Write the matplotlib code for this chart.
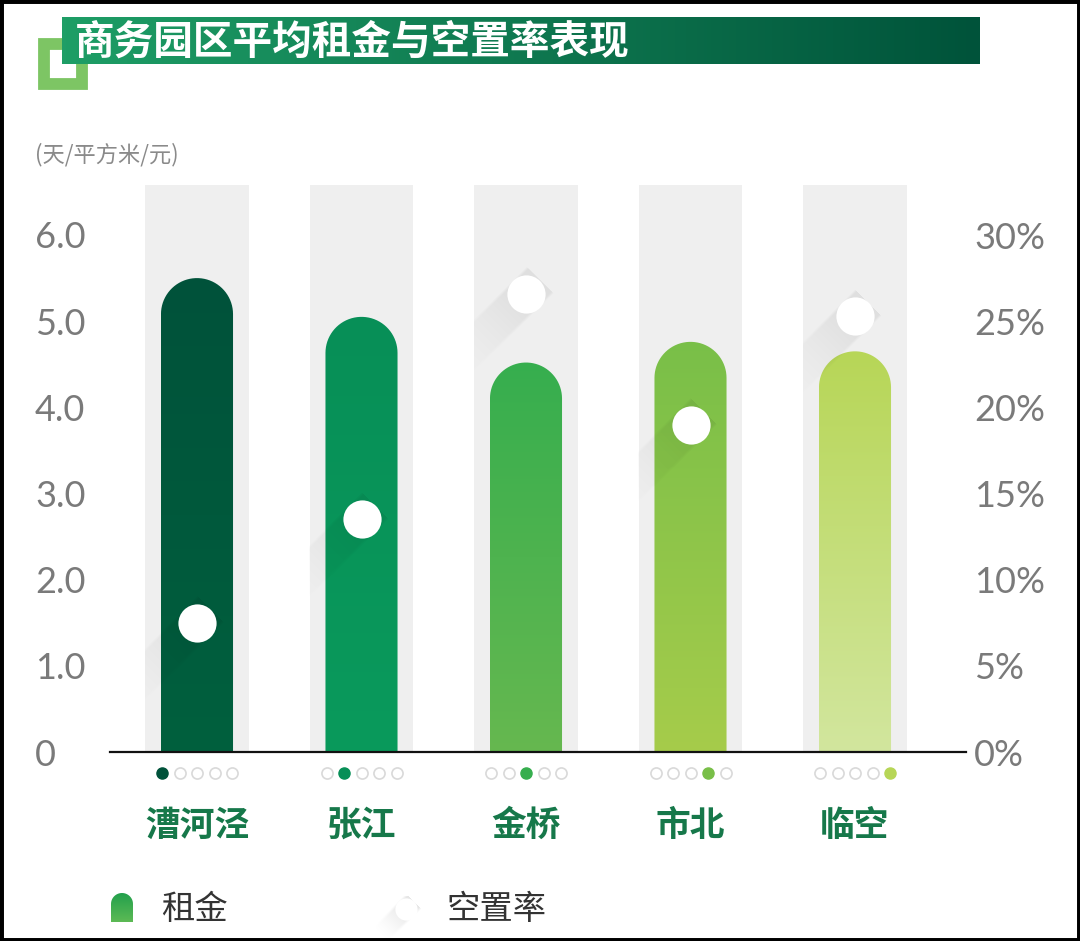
import numpy as np
import matplotlib
matplotlib.use('Agg')
import matplotlib.pyplot as plt
from matplotlib.patches import Polygon, Rectangle
from matplotlib.colors import to_rgb

plt.rcParams['font.family'] = ['Noto Sans CJK SC', 'DejaVu Sans']

# data
parks = ['漕河泾', '张江', '金桥', '市北', '临空']
rent = [5.50, 5.05, 4.52, 4.76, 4.65]          # 元/平方米/天
vacancy = [7.5, 13.5, 26.6, 19.0, 25.3]       # %
rent_ticks = [0, 1, 2, 3, 4, 5, 6]
rent_labels = ['0', '1.0', '2.0', '3.0', '4.0', '5.0', '6.0']
vac_ticks = [0, 5, 10, 15, 20, 25, 30]
vac_labels = ['0%', '5%', '10%', '15%', '20%', '25%', '30%']

bar_top = ['#00523A', '#078F57', '#36AE4E', '#79BF48', '#B7D657']
bar_bot = ['#00603E', '#0A9A5C', '#66B850', '#A6CC4B', '#D2E69E']

W, H = 1080, 941
fig = plt.figure(figsize=(W / 100, H / 100), dpi=100)
fig.patch.set_facecolor('white')

# decoration layer in pixel units (y down)
deco = fig.add_axes([0, 0, 1, 1], zorder=0)
deco.set_xlim(0, W)
deco.set_ylim(H, 0)
deco.axis('off')
deco.set_autoscale_on(False)

# main chart: baseline at y=752px, axes top at 185px, from x=110 to 966
ax = fig.add_axes([110 / W, (H - 752) / H, (966 - 110) / W, (752 - 185) / H], zorder=1)
ax.patch.set_alpha(0)
ymax = 6 * (752 - 185) / (752 - 235)
ax.set_xlim(-87 / 164.5, 769 / 164.5)
ax.set_ylim(0, ymax)
ax.set_autoscale_on(False)
ax2 = ax.twinx()
ax2.set_ylim(0, ymax * 5)
ax2.set_autoscale_on(False)


def grad_img(c1, c2, n=256):
    c1, c2 = np.array(to_rgb(c1)), np.array(to_rgb(c2))
    t = np.linspace(0, 1, n)[:, None]
    return (c1 * (1 - t) + c2 * t)[:, None, :]


def long_shadow(axis, cx, cy, r, box, length=120, amax=0.07, z=3):
    # cx, cy, box in display pixels (y up); shadow runs down-left
    x0, x1, y0, y1 = box
    xs = np.arange(x0, x1) + 0.5
    ys = np.arange(y0, y1) + 0.5
    X, Y = np.meshgrid(xs, ys)
    ux, uy = X - cx, Y - cy
    t = (-ux - uy) / np.sqrt(2)
    s = (ux - uy) / np.sqrt(2)
    fade = np.clip(1 - np.clip(t, 0, None) / length, 0, 1) ** 1.6
    edge = np.clip((r - np.abs(s)) / 3.0, 0, 1)
    a = np.where(t > -r, amax * fade * edge, 0)
    img = np.zeros(X.shape + (4,))
    img[..., 3] = a
    inv = axis.transData.inverted()
    dx0, dy0 = inv.transform((x0, y0))
    dx1, dy1 = inv.transform((x1, y1))
    axis.imshow(img, extent=(dx0, dx1, dy0, dy1), origin='lower', aspect='auto',
                zorder=z, interpolation='bilinear')


col_w = 0.632
bar_w = 0.438
xs = np.arange(len(parks))
inv = ax.transData.inverted()
for i in xs:
    # gray column
    ax.add_patch(Rectangle((i - col_w / 2, 0), col_w, ymax, facecolor='#EFEFEF',
                           edgecolor='none', zorder=1))
    # rounded bar built in pixels, mapped back to data
    (l, b), (rr, t) = ax.transData.transform([(i - bar_w / 2, 0), (i + bar_w / 2, rent[i])])
    rad = (rr - l) / 2
    ang = np.linspace(np.pi, 0, 40)
    arc = np.column_stack([l + rad + rad * np.cos(ang), t - rad + rad * np.sin(ang)])
    verts = np.vstack([[l, b], arc, [rr, b]])
    poly = Polygon(inv.transform(verts), closed=True, facecolor='none', edgecolor='none')
    ax.add_patch(poly)
    im = ax.imshow(grad_img(bar_top[i], bar_bot[i]), extent=(i - bar_w / 2, i + bar_w / 2, 0, rent[i]),
                   origin='upper', aspect='auto', zorder=2)
    im.set_clip_path(poly)
    # long shadow behind vacancy dot, limited to the gray column
    cx, cy = ax2.transData.transform((i, vacancy[i]))
    (gx0, gy0), (gx1, gy1) = ax.transData.transform([(i - col_w / 2, 0), (i + col_w / 2, ymax)])
    long_shadow(ax, cx, cy, 19, (int(gx0), int(gx1), int(gy0), int(gy1)))
    # page dots under each bar
    step = 17.5 / 164.5
    for k in range(len(parks)):
        if k == i:
            ax.plot(i + (k - 2) * step, -0.244, 'o', ms=8, mfc=bar_top[i], mec=bar_top[i],
                    clip_on=False, zorder=5)
        else:
            ax.plot(i + (k - 2) * step, -0.244, 'o', ms=8, mfc='white', mec='#D9D9D9', mew=1.2,
                    clip_on=False, zorder=5)
    ax.text(i, -0.85, parks[i], ha='center', va='center', fontsize=25, color='#16784A',
            fontweight='bold')

ax2.plot(xs, vacancy, 'o', ms=27.5, mfc='white', mec='none', zorder=5)

for a in (ax, ax2):
    for sp in a.spines.values():
        sp.set_visible(False)
ax.spines['bottom'].set_visible(True)
ax.spines['bottom'].set_color('#111111')
ax.spines['bottom'].set_linewidth(1.6)
ax.spines['bottom'].set_zorder(6)
ax.set_xticks([])

ax.set_yticks(rent_ticks)
ax.set_yticklabels(rent_labels, family=['Lato', 'DejaVu Sans'], fontsize=26, color='#7A7A7A',
                   ha='left')
ax.tick_params(axis='y', length=0, pad=54)
ax2.set_yticks(vac_ticks)
ax2.set_yticklabels(vac_labels, family=['Lato', 'DejaVu Sans'], fontsize=26, color='#7A7A7A')
ax2.tick_params(axis='y', length=0, pad=6)

ax.text(-0.53 - 75 / 164.5, (752 - 155) / 86.17, '(天/平方米/元)', ha='left', va='center',
        fontsize=16, color='#8A8A8A')

# title banner with green bracket icon
deco.add_patch(Rectangle((44, 44), 38, 40, facecolor='none', edgecolor='#7DC564', linewidth=8.5, zorder=1))
deco.imshow(grad_img('#1E9E66', '#00533A').transpose(1, 0, 2), extent=(62, 980, 64, 17),
            aspect='auto', zorder=2)
deco.text(75, 42, '商务园区平均租金与空置率表现', color='white', fontsize=28.5, fontweight='bold',
          ha='left', va='center', zorder=3)

# legend
ang = np.linspace(np.pi, 2 * np.pi, 30)
cap = np.column_stack([122 + 11 * np.cos(ang), 904 + 11 * np.sin(ang)])
lpoly = Polygon(np.vstack([[111, 922], cap, [133, 922]]), closed=True, facecolor='none', edgecolor='none')
deco.add_patch(lpoly)
lim = deco.imshow(grad_img('#22A04C', '#5DBA55'), extent=(111, 133, 922, 893), aspect='auto', zorder=2)
lim.set_clip_path(lpoly)
deco.text(161, 909, '租金', fontsize=24, color='#333333', ha='left', va='center')

lcx, lcy = 406, 909
long_shadow(deco, lcx, H - lcy, 11, (375, 425, 0, 45), length=40, amax=0.10, z=2)
deco.plot(lcx, lcy, 'o', ms=16, mfc='white', mec='none', zorder=3)
deco.text(446, 909, '空置率', fontsize=24, color='#333333', ha='left', va='center')

# outer black frame
fig.patches.append(Rectangle((0, 0), 1, 1, transform=fig.transFigure, fill=False,
                             edgecolor='black', linewidth=5))

fig.savefig('out.png', dpi=100)
